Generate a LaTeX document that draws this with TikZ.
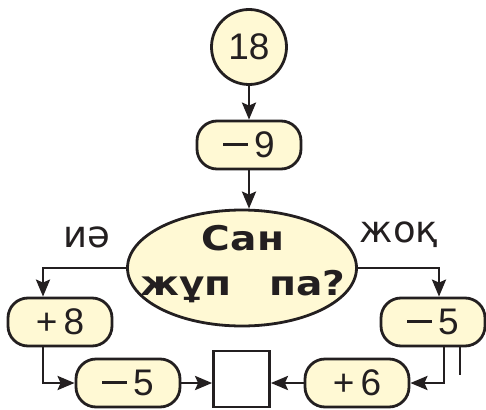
\documentclass[tikz,border=0pt]{standalone}
\usepackage{fontspec}
\setmainfont{Liberation Sans}
\newfontfamily\wordfont{DejaVu Sans}
\newfontfamily\askfont[FakeStretch=1.15]{DejaVu Sans}
\usetikzlibrary{arrows.meta,positioning,shapes.geometric}
\definecolor{boxfill}{HTML}{FFF9D4}
\definecolor{linedark}{HTML}{231F20}
\newcommand{\longminus}{\raisebox{11.5pt}{\rule{25pt}{3pt}}\hspace{6pt}}

\begin{document}
\begin{tikzpicture}[
  x=1pt, y=-1pt,
  >={Stealth[length=17pt,width=14pt,inset=3pt]},
  line width=2.8pt,
  numbox/.style={rectangle, draw=linedark, fill=boxfill, rounded corners=20pt, minimum width=104pt, minimum height=48pt, inner sep=0pt, text=linedark, font=\fontsize{37}{40}\selectfont},
  start/.style={circle, draw=linedark, fill=boxfill, minimum size=75pt, inner sep=0pt, text=linedark, font=\fontsize{37}{40}\selectfont},
  query/.style={ellipse, draw=linedark, fill=boxfill, minimum width=229pt, minimum height=116pt, inner sep=0pt},
  asktext/.style={align=center, inner sep=0pt, text=linedark, font=\askfont\fontsize{34}{45}\selectfont\bfseries},
  result/.style={rectangle, draw=linedark, fill=white, minimum size=56pt, inner sep=0pt},
  answer/.style={font=\wordfont\fontsize{37}{40}\selectfont, text=linedark},
  flow/.style={->, draw=linedark, line width=2.8pt}
]
  \useasboundingbox (0,0) rectangle (486,409);
  \node[start] (n18) at (249,47) {18};
  \node[numbox] (m9) at (249,145) {\longminus 9};
  \node[query] (q) at (242,268) {};
  \node[asktext] (qtext) at (243,264) {Сан\\жұп\hspace*{24pt} па?};
  \node[numbox] (p8) at (60,322) {+\,8};
  \node[numbox] (m5a) at (128,383) {\longminus 5};
  \node[result] (res) at (241.5,379) {};
  \node[numbox] (m5b) at (433,322) {\longminus 5};
  \node[numbox] (p6) at (357,383) {+\,6};
  \node[answer] (yes) at (87,237) {иә};
  \node[answer] (no) at (399,235) {жоқ};
  \draw[flow] (n18) -- (m9);
  \draw[flow] (m9.south) -- (m9.south |- q.north);
  \draw[flow] (q.west) -| ([xshift=-17pt]p8.north);
  \draw[flow] ([xshift=-17pt]p8.south) |- (m5a.west);
  \draw[flow] (m5a.east) -- (m5a.east -| res.west);
  \draw[flow] (q.east) -| ([xshift=6pt]m5b.north);
  \draw[flow] ([xshift=11pt]m5b.south) |- (p6.east);
  \draw[flow] (p6.west) -- (p6.west -| res.east);
  \draw[draw=linedark] ([xshift=27pt]m5b.south) -- ++(0,28);
\end{tikzpicture}
\end{document}
